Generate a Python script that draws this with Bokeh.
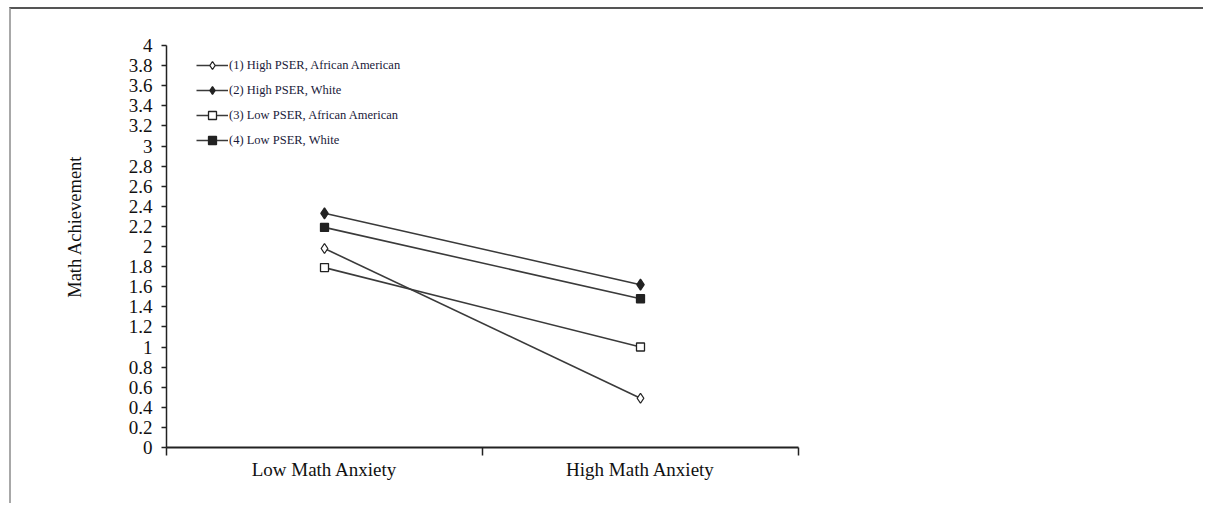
from bokeh.plotting import figure
from bokeh.models import Range1d, FixedTicker, Legend, LegendItem, Title
from bokeh.embed import file_html
from bokeh.resources import INLINE

# ---- data ----
categories = ["Low Math Anxiety", "High Math Anxiety"]
series_names = [
    "(1) High PSER, African American",
    "(2) High PSER, White",
    "(3) Low PSER, African American",
    "(4) Low PSER, White",
]
s1_high_pser_aa = [1.98, 0.49]
s2_high_pser_white = [2.33, 1.62]
s3_low_pser_aa = [1.79, 1.00]
s4_low_pser_white = [2.19, 1.48]

y_ticks = [0, 0.2, 0.4, 0.6, 0.8, 1, 1.2, 1.4, 1.6, 1.8, 2,
           2.2, 2.4, 2.6, 2.8, 3, 3.2, 3.4, 3.6, 3.8, 4]
y_tick_labels = ["0", "0.2", "0.4", "0.6", "0.8", "1", "1.2", "1.4", "1.6", "1.8", "2",
                 "2.2", "2.4", "2.6", "2.8", "3", "3.2", "3.4", "3.6", "3.8", "4"]
y_title = "Math Achievement"

FONT = "Liberation Serif"
INK = "#222222"
LINE = "#3a3a3a"

p = figure(width=1194, height=496, output_backend="svg", toolbar_location=None,
           x_range=Range1d(0, len(categories)), y_range=Range1d(0, 4),
           min_border_left=155, min_border_right=407, min_border_top=36, min_border_bottom=58)
p.outline_line_color = None
p.grid.grid_line_color = None
p.background_fill_color = "white"
p.border_fill_color = "white"
p.styles = {"border-top": "2px solid #555555", "border-left": "2px solid #a8a8a8",
            "margin-top": "7px", "margin-left": "9px"}

# x positions from category index (centre of each category band)
xs = [i + 0.5 for i in range(len(categories))]

# x axis: boundaries as ticks, labels at category centres
xa = p.xaxis[0]
xa.ticker = FixedTicker(ticks=xs, minor_ticks=list(range(len(categories) + 1)))
xa.major_label_overrides = {x: c for x, c in zip(xs, categories)}
xa.major_tick_line_color = None
xa.major_tick_out = 0
xa.major_tick_in = 0
xa.minor_tick_out = 8
xa.minor_tick_in = 0
xa.minor_tick_line_color = INK
xa.minor_tick_line_width = 1.5
xa.axis_line_color = INK
xa.axis_line_width = 2
xa.major_label_standoff = 3
xa.major_label_text_font = FONT
xa.major_label_text_font_size = "19px"
xa.major_label_text_color = "#111111"

ya = p.yaxis[0]
ya.ticker = FixedTicker(ticks=y_ticks)
ya.major_label_overrides = {t: l for t, l in zip(y_ticks, y_tick_labels)}
ya.minor_tick_line_color = None
ya.major_tick_out = 5
ya.major_tick_in = 0
ya.major_tick_line_color = INK
ya.major_tick_line_width = 1.5
ya.axis_line_color = INK
ya.axis_line_width = 1.5
ya.major_label_standoff = 9
ya.major_label_text_font = FONT
ya.major_label_text_font_size = "19px"
ya.major_label_text_color = "#111111"

# y-axis title (placed slightly above the axis centre, as in the original)
p.add_layout(Title(text=y_title, align="right", offset=110, vertical_align="middle",
                   standoff=80, text_font=FONT, text_font_size="18.5px",
                   text_font_style="normal", text_color="#111111"), "left")

series = [s1_high_pser_aa, s2_high_pser_white, s3_low_pser_aa, s4_low_pser_white]
markers = ["diamond", "diamond", "square", "square"]
sizes = [10, 11, 8, 8]
fills = ["white", INK, "white", INK]

items = []
for name, vals, mk, sz, fc in zip(series_names, series, markers, sizes, fills):
    r_line = p.line(xs, vals, line_color=LINE, line_width=1.6)
    r_pt = p.scatter(xs, vals, marker=mk, size=sz, fill_color=fc,
                     line_color=INK, line_width=1.3)
    items.append(LegendItem(label=name, renderers=[r_line, r_pt]))

legend = Legend(items=items, location=(30, 297), padding=0, margin=0,
                glyph_width=32, glyph_height=20, label_height=20, spacing=5,
                label_standoff=1, border_line_color=None, background_fill_alpha=0,
                label_text_font=FONT, label_text_font_size="12.5px",
                label_text_color="#1a1a3a")
p.add_layout(legend)

open("out.html", "w").write(file_html(p, INLINE))
